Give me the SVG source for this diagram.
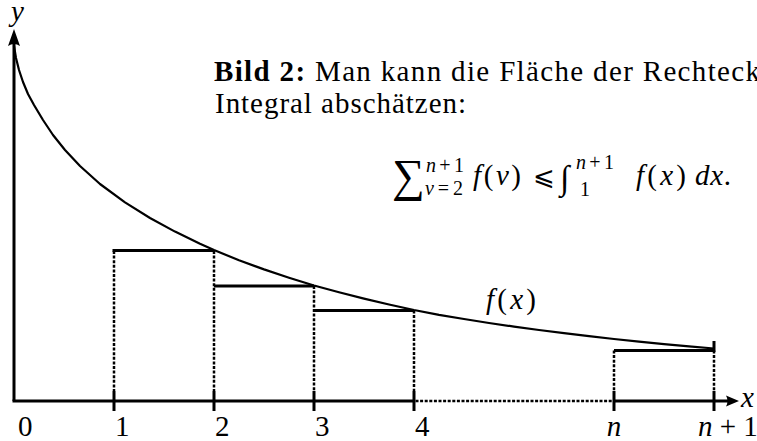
<svg xmlns="http://www.w3.org/2000/svg" width="757" height="441" viewBox="0 0 757 441">
  <style>
    .ax { stroke: #000; stroke-width: 3; fill: none; }
    .tick { stroke: #000; stroke-width: 3; }
    .dot { stroke: #000; stroke-width: 2.5; stroke-dasharray: 3 1.6; fill: none; }
    .top { stroke: #000; stroke-width: 3; }
    .curve { stroke: #000; stroke-width: 2.2; fill: none; stroke-linejoin: round; stroke-linecap: round; }
    text { font-family: "Liberation Serif", "Times New Roman", serif; font-size: 29px; fill: #000; }
    .it { font-style: italic; }
    .sc { font-size: 20px; }
    .bf { font-weight: bold; }
  </style>
  <rect width="757" height="441" fill="#fff"/>

  <g id="axes">
    <line class="ax" x1="14" y1="401" x2="14" y2="42"/>
    <path d="M14,29 L20,46 Q14,42 8,46 Z" fill="#000"/>
    <line class="ax" x1="12.5" y1="401" x2="414" y2="401"/>
    <line class="dot" x1="415.5" y1="401" x2="612.5" y2="401"/>
    <line class="ax" x1="614" y1="401" x2="728" y2="401"/>
    <path d="M739,401 L726,395.5 Q729,401 726,406.5 Z" fill="#000"/>
  </g>

  <g id="ticks">
    <line class="tick" x1="114" y1="391" x2="114" y2="411"/>
    <line class="tick" x1="214" y1="391" x2="214" y2="411"/>
    <line class="tick" x1="314" y1="391" x2="314" y2="411"/>
    <line class="tick" x1="414" y1="391" x2="414" y2="411"/>
    <line class="tick" x1="614" y1="391" x2="614" y2="411"/>
    <line class="tick" x1="714" y1="391" x2="714" y2="411"/>
    <line class="tick" x1="714" y1="341" x2="714" y2="352"/>
  </g>

  <g id="rectangles">
    <line class="dot" x1="114" y1="251" x2="114" y2="391"/>
    <line class="dot" x1="214" y1="251" x2="214" y2="391"/>
    <line class="dot" x1="314" y1="286" x2="314" y2="391"/>
    <line class="dot" x1="414" y1="310.5" x2="414" y2="391"/>
    <line class="dot" x1="614" y1="350.5" x2="614" y2="391"/>
    <line class="dot" x1="714" y1="350.5" x2="714" y2="391"/>
    <line class="top" x1="112.5" y1="250.5" x2="214" y2="250.5"/>
    <line class="top" x1="214" y1="286" x2="314" y2="286"/>
    <line class="top" x1="314" y1="310.5" x2="414" y2="310.5"/>
    <line class="top" x1="614" y1="350.5" x2="714" y2="350.5"/>
  </g>

  <g id="curve">
    <path class="curve" d="M14,46 L16,58 L19,70 L23,82 L28,94 L34,105 L43,120 L53,135 L65,150 L80,166 L100,184 L125,202.4 L150,218 L175,231.6 L200,243.8 L214,250 L239,260.3 L264,269.4 L289,277.7 L314,285.5 L339,292.3 L364,298.6 L389,304.5 L414,310 L439,314.8 L464,319 L489,323 L514,326.6 L539,330 L564,333.2 L589,336.2 L614,339 L639,341.7 L664,344.1 L689,346.4 L714,348.5"/>
  </g>

  <g id="labels">
    <text class="it" x="11" y="21">y</text>
    <text class="it" x="741" y="407">x</text>
    <text x="18" y="436">0</text>
    <text x="115" y="436">1</text>
    <text x="215" y="436">2</text>
    <text x="315" y="436">3</text>
    <text x="415" y="436">4</text>
    <text class="it" x="614" y="436" text-anchor="middle">n</text>
    <text x="698" y="436" xml:space="preserve"><tspan class="it">n</tspan> + 1</text>
    <text x="486" y="309" textLength="50" lengthAdjust="spacing"><tspan class="it">f</tspan>(<tspan class="it">x</tspan>)</text>
  </g>

  <g id="caption">
    <text x="214" y="81" textLength="546" lengthAdjust="spacing"><tspan class="bf">Bild 2:</tspan> Man kann die Fläche der Rechteck</text>
    <text x="215" y="113" textLength="251" lengthAdjust="spacing">Integral abschätzen:</text>
  </g>

  <g id="formula">
    <text x="392" y="191" style="font-size:46px">∑</text>
    <text class="sc it" x="426" y="172" textLength="38" lengthAdjust="spacing">n<tspan font-style="normal">+1</tspan></text>
    <text class="sc" x="425" y="195" textLength="38" lengthAdjust="spacing"><tspan class="it">ν</tspan>=2</text>
    <text x="473" y="185" textLength="48" lengthAdjust="spacing"><tspan class="it">f</tspan>(<tspan class="it">ν</tspan>)</text>
    <text x="533" y="185" style="font-family:'DejaVu Serif', serif; font-size:26px">⩽</text>
    <text class="it" x="560" y="189" style="font-size:34px">∫</text>
    <text class="sc it" x="576" y="169" textLength="38" lengthAdjust="spacing">n<tspan font-style="normal">+1</tspan></text>
    <text class="sc" x="580" y="196">1</text>
    <text x="636" y="185" textLength="50" lengthAdjust="spacing"><tspan class="it">f</tspan>(<tspan class="it">x</tspan>)</text>
    <text x="695" y="185" textLength="36" lengthAdjust="spacing"><tspan class="it">dx</tspan>.</text>
  </g>
</svg>
